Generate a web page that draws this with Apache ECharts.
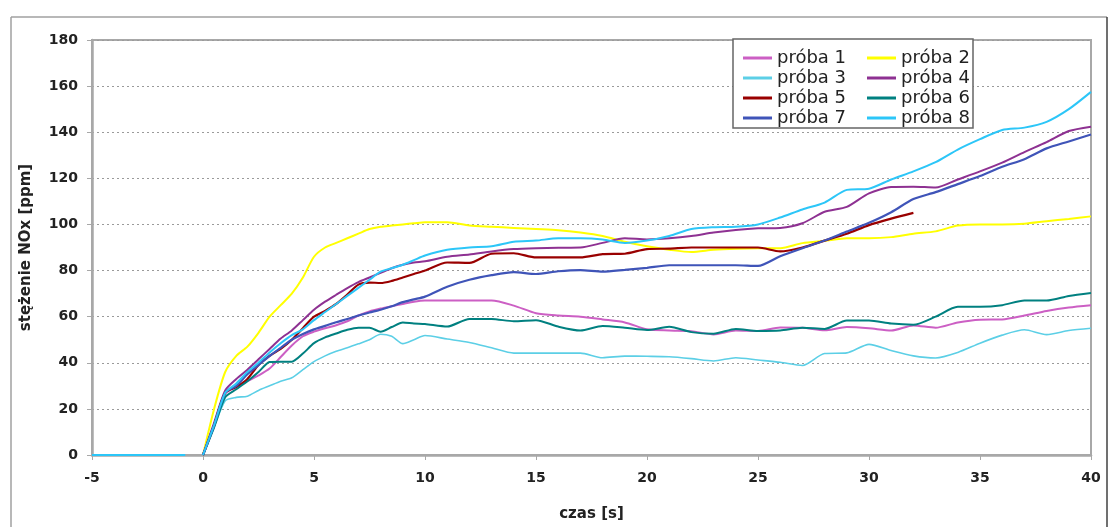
<!DOCTYPE html>
<html>
<head>
<meta charset="utf-8">
<script src="https://cdn.jsdelivr.net/npm/echarts@6/dist/echarts.min.js"></script>
<style>
  html, body { margin: 0; padding: 0; background: #fff; }
  #chart { width: 1110px; height: 527px; }
</style>
</head>
<body>
<div id="chart"></div>
<script>
// Time axis [s]: half-second steps during the rise, then one-second steps
const times = [
  0, 0.5, 1, 1.5, 2, 2.5, 3, 3.5, 4, 4.5, 5, 5.5, 6, 6.5, 7, 7.5, 8, 8.5, 9, 9.5, 10,
  11, 12, 13, 14, 15, 16, 17, 18, 19, 20, 21, 22, 23, 24, 25, 26, 27, 28, 29, 30,
  31, 32, 33, 34, 35, 36, 37, 38, 39, 40
];

// Baseline before ignition (próba 8 only)
const preTimes = [-5, -0.8];
const preValues = [0, 0];

// NOx concentration [ppm] for each trial
const proba1 = [0, 13, 26.5, 29.5, 32, 34.5, 37.5, 42.5, 47.5, 51.5, 53.5, 55, 56.3, 58, 60.5, 62.3, 63.5, 64.5, 65.5, 66.5, 67,
  67, 67, 67, 64.8, 61.5, 60.5, 60, 58.8, 57.5, 54.5, 54, 53.7, 52.3, 54, 53.8, 55.3, 55.2, 54.1, 55.5, 55,
  54, 56.2, 55.2, 57.5, 58.7, 58.8, 60.5, 62.5, 64, 65];
const proba2 = [0, 20, 36, 43, 47, 53, 60, 65, 70, 77, 86, 90, 92, 94, 96, 98, 99, 99.5, 100, 100.5, 101,
  101, 99.5, 99, 98.5, 98, 97.5, 96.5, 95, 92.5, 90.5, 89, 88, 89, 89.5, 89.7, 89.7, 91.9, 92.9, 94, 94,
  94.5, 96, 97, 99.5, 100, 100, 100.3, 101.4, 102.4, 103.5];
const proba3 = [0, 12, 23.5, 25, 25.5, 28, 30, 32, 33.5, 37, 40.5, 43, 45, 46.5, 48.2, 50, 52.4, 51.5, 48.3, 50, 51.8,
  50.3, 48.8, 46.5, 44.2, 44.2, 44.2, 44.2, 42.2, 42.9, 42.8, 42.6, 41.8, 40.8, 42.2, 41.2, 40.2, 38.8, 44, 44.3, 48,
  45.3, 43, 42.1, 44.5, 48.5, 52, 54.3, 52.2, 54, 55];
const proba4 = [0, 14, 28, 33, 37, 41.5, 46, 50.5, 54, 58.5, 63, 66.5, 69.5, 72.4, 75, 77, 79, 81, 82.5, 83.5, 84,
  86, 87, 88.3, 89.3, 89.7, 89.9, 90, 92, 94, 93.5, 94, 95, 96.5, 97.6, 98.3, 98.5, 100.5, 105.5, 107.6, 113.5,
  116.2, 116.4, 116, 119.5, 123, 126.8, 131.4, 135.7, 140.5, 142.4];
// trial 5 was recorded up to 32 s only
const proba5 = [0, 13, 27, 29.5, 33, 39, 43, 46, 50, 55, 60, 62.5, 65.5, 69.6, 73.9, 74.8, 74.6, 75.5, 77, 78.5, 80,
  83.5, 83.3, 87.3, 87.5, 85.7, 85.7, 85.7, 87.1, 87.3, 89.3, 89.5, 90, 90, 90, 90, 88.3, 90, 93, 96, 99.7,
  102.5, 105];
const proba6 = [0, 12, 25, 28.5, 32, 36, 40.3, 40.5, 40.5, 44, 48.5, 51, 52.7, 54.3, 55.2, 55.2, 53.5, 55.5, 57.5, 57, 56.8,
  55.7, 59, 59, 58, 58.5, 55.7, 54, 56, 55.2, 54.2, 55.6, 53.3, 52.6, 54.7, 53.8, 54, 55.2, 54.7, 58.3, 58.3,
  57, 56.5, 60, 64.3, 64.3, 65, 67, 67, 69, 70.3];
const proba7 = [0, 13, 27, 30, 35, 39, 43, 46.5, 50, 52.5, 54.5, 56, 57.6, 59, 60.5, 61.8, 63, 64.5, 66.3, 67.5, 68.7,
  73, 76, 78, 79.3, 78.5, 79.7, 80.2, 79.5, 80.3, 81.2, 82.3, 82.3, 82.3, 82.3, 82, 86.2, 89.7, 93, 96.9, 100.7,
  105.3, 111, 114, 117.5, 121, 125, 128.3, 133, 136, 139];
const proba8 = [0, 13, 27, 31, 36, 40, 44.5, 48.5, 52, 54.5, 58.5, 62, 65.5, 69, 72.5, 76, 79.5, 81, 82.5, 84.5, 86.5,
  89, 90, 90.5, 92.5, 93, 94, 94, 93.5, 92, 93, 95, 98, 98.8, 99, 100, 103, 106.5, 109.5, 115, 115.5,
  119.5, 123, 127, 132.5, 137, 141, 142, 144.5, 150, 157.5];

const seriesNames = ['próba 1', 'próba 2', 'próba 3', 'próba 4', 'próba 5', 'próba 6', 'próba 7', 'próba 8'];
const seriesValues = [proba1, proba2, proba3, proba4, proba5, proba6, proba7, proba8];
const seriesColors = ['#cc5fc4', '#ffff00', '#5ccfe6', '#8e3192', '#990000', '#008080', '#3f54b8', '#2cc6f8'];
const seriesWidths = [2, 2, 1.6, 2, 2.2, 2, 2.2, 2];

const xTicks = { min: -5, max: 40, step: 5 };
const yTicks = { min: 0, max: 180, step: 20 };

function pairs(xs, ys) {
  return ys.map((v, i) => [xs[i], v]);
}

const series = seriesNames.map((name, i) => {
  let data = pairs(times, seriesValues[i]);
  if (i === 7) {
    // flat baseline before t = 0, separated by a gap
    data = pairs(preTimes, preValues).concat([[-0.4, '-']], data);
  }
  return {
    name: name,
    type: 'line',
    data: data,
    showSymbol: false,
    smooth: 0.25,
    connectNulls: false,
    color: seriesColors[i],
    lineStyle: { width: seriesWidths[i], color: seriesColors[i] },
    emphasis: { disabled: true }
  };
});

const labelFont = { fontFamily: 'DejaVu Sans', fontWeight: 'bold', fontSize: 14, color: '#222' };
const legendText = { fontFamily: 'DejaVu Sans', fontSize: 18, color: '#222' };

const legendCommon = {
  orient: 'vertical',
  top: 44,
  itemWidth: 29,
  itemHeight: 3,
  itemGap: 2,
  icon: 'rect',
  textStyle: legendText,
  selectedMode: false,
  z: 20
};

const chart = echarts.init(document.getElementById('chart'), null, { renderer: 'canvas' });
chart.setOption({
  animation: false,
  backgroundColor: '#fff',
  grid: {
    left: 92, right: 19, top: 40, bottom: 67,
    show: true,
    borderColor: '#a8a8a8',
    borderWidth: 2,
    backgroundColor: 'transparent'
  },
  xAxis: {
    type: 'value',
    min: xTicks.min, max: xTicks.max, interval: xTicks.step,
    name: 'czas [s]',
    nameLocation: 'middle',
    nameGap: 52,
    nameTextStyle: { fontFamily: 'DejaVu Sans', fontWeight: 'bold', fontSize: 15, color: '#222' },
    axisLine: { onZero: false, lineStyle: { color: '#a8a8a8', width: 2.5 } },
    axisTick: { show: true, length: 5, lineStyle: { color: '#a8a8a8', width: 1 } },
    axisLabel: Object.assign({ margin: 16 }, labelFont),
    splitLine: { show: false }
  },
  yAxis: {
    type: 'value',
    min: yTicks.min, max: yTicks.max, interval: yTicks.step,
    name: 'stężenie NOx [ppm]',
    nameLocation: 'middle',
    nameGap: 58,
    nameTextStyle: { fontFamily: 'DejaVu Sans', fontWeight: 'bold', fontSize: 15, color: '#222' },
    axisLine: { show: true, onZero: false, lineStyle: { color: '#a8a8a8', width: 2.5 } },
    axisTick: { show: true, length: 5, lineStyle: { color: '#a8a8a8', width: 1 } },
    axisLabel: Object.assign({ margin: 14 }, labelFont),
    splitLine: { show: true, lineStyle: { color: '#9a9a9a', width: 1, type: [2, 3] } }
  },
  legend: [
    Object.assign({ left: 738, data: ['próba 1', 'próba 3', 'próba 5', 'próba 7'] }, legendCommon),
    Object.assign({ left: 862, data: ['próba 2', 'próba 4', 'próba 6', 'próba 8'] }, legendCommon)
  ],
  graphic: [
    // outer frame of the chart area
    { type: 'line', z: 1, shape: { x1: 11, y1: 17, x2: 1107, y2: 17 }, style: { stroke: '#a0a0a0', lineWidth: 1.5 } },
    { type: 'line', z: 1, shape: { x1: 11, y1: 17, x2: 11, y2: 527 }, style: { stroke: '#a0a0a0', lineWidth: 1.5 } },
    { type: 'line', z: 1, shape: { x1: 1107, y1: 17, x2: 1107, y2: 527 }, style: { stroke: '#404040', lineWidth: 1.5 } },
    // legend box
    { type: 'rect', z: 10, shape: { x: 733, y: 39, width: 240, height: 89 },
      style: { fill: '#fff', stroke: '#666', lineWidth: 1.5 } }
  ],
  series: series
});
</script>
</body>
</html>
